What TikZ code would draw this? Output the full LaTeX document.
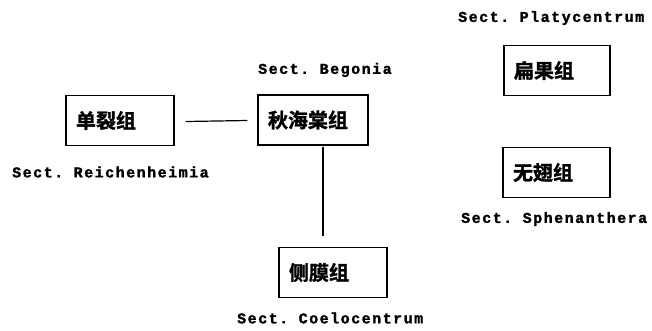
\documentclass[tikz,border=0pt]{standalone}
\usepackage{fontspec}
\setmonofont{Liberation Mono}[LetterSpace=10, BoldFeatures={FakeBold=1.5}]
\newfontfamily\cjk{Noto Sans CJK SC Bold}[FakeBold=1.5]
\begin{document}
\begin{tikzpicture}[x=1pt,y=-1pt,
  grp/.style={draw, line width=1.1pt, minimum height=50pt, text width=#1, align=left, inner xsep=10pt, inner ysep=0pt, font=\cjk\fontsize{20}{21}\selectfont},
  sect/.style={anchor=west, inner sep=0pt, font=\ttfamily\bfseries\fontsize{15}{16}\selectfont},
  link/.style={line width=1.2pt}]
\useasboundingbox (0,0) rectangle (652,330);
\node[grp=88pt] (dan) at (120,120.5) {单裂组};
\node[grp=90pt] (qiu) at (313,120) {秋海棠组};
\node[grp=88pt] (ce) at (333,272.5) {侧膜组};
\node[grp=86pt] (bian) at (557,70.5) {扁果组};
\node[grp=87pt] (wu) at (556.5,172.5) {无翅组};
\node[sect] (lqiu) at (258,70) {Sect. Begonia};
\node[sect] (ldan) at (12,172) {Sect. Reichenheimia};
\node[sect] (lce) at (237,318) {Sect. Coelocentrum};
\node[sect] (lbian) at (458,18) {Sect. Platycentrum};
\node[sect] (lwu) at (461,219) {Sect. Sphenanthera};
\coordinate (h1) at ([xshift=11pt,yshift=-1pt]dan.east);
\coordinate (h2) at ([xshift=-10pt,yshift=-0.5pt]qiu.west);
\draw[link] (h1) -- (h2);
\coordinate (v1) at ([xshift=10pt,yshift=-1pt]qiu.south);
\coordinate (v2) at ([yshift=11pt]v1 |- ce.north);
\draw[link] (v1) -- (v2);
\end{tikzpicture}
\end{document}
